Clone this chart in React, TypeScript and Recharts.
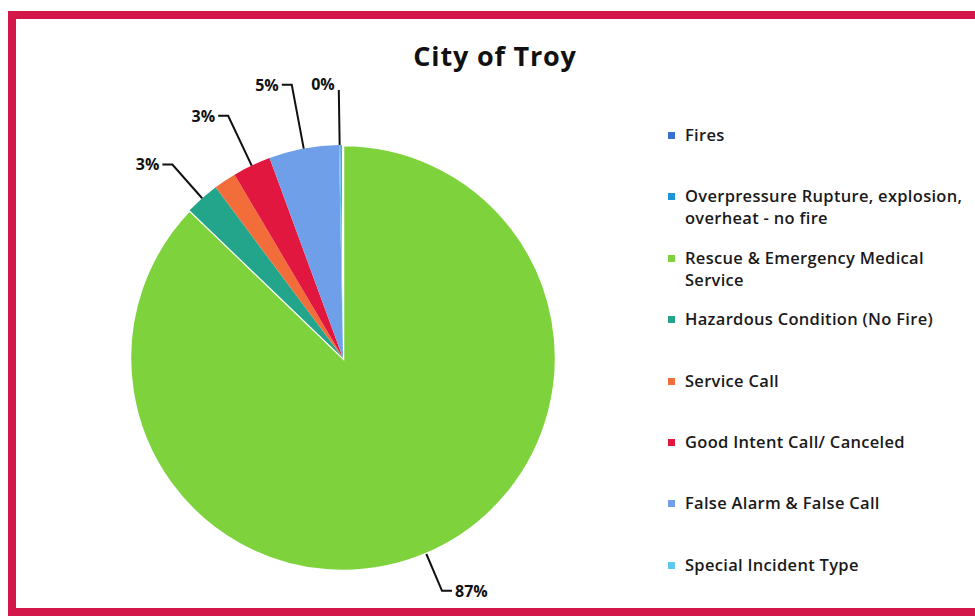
import { PieChart, Pie, Cell, Legend } from 'recharts';

const CATEGORIES = [
  'Fires',
  'Overpressure Rupture, explosion, overheat - no fire',
  'Rescue & Emergency Medical Service',
  'Hazardous Condition (No Fire)',
  'Service Call',
  'Good Intent Call/ Canceled',
  'False Alarm & False Call',
  'Special Incident Type',
];
const SHARES = [0.2, 0, 87.2, 2.6, 1.7, 2.9, 5.3, 0.1];
const COLORS = ['#3a6fd4', '#1b95d8', '#7ed23c', '#22a58a', '#f26d3a', '#e1173f', '#6f9fe8', '#5fc8f0'];

// which slices carry a label, and how far the leader runs out
const LEADS: Record<string, number> = {
  'Hazardous Condition (No Fire)': 45,
  'Good Intent Call/ Canceled': 55,
  'False Alarm & False Call': 65,
  'Special Incident Type': 55,
  'Rescue & Emergency Medical Service': 40,
};

const data = CATEGORIES.map((name, i) => ({ name, value: SHARES[i] }));
const total = SHARES.reduce((a, b) => a + b, 0);
const startAngle = 90 + ((SHARES[0] + SHARES[1]) / total) * 360;

const RAD = Math.PI / 180;
const font = '"Open Sans", "DejaVu Sans", sans-serif';

function renderLabel(props: any) {
  const { cx, cy, midAngle, outerRadius, percent, name } = props;
  const lead = LEADS[name];
  if (lead === undefined) return null;
  const cos = Math.cos(-midAngle * RAD);
  const sin = Math.sin(-midAngle * RAD);
  const x0 = cx + outerRadius * cos;
  const y0 = cy + outerRadius * sin;
  const x1 = cx + (outerRadius + lead) * cos;
  const y1 = cy + (outerRadius + lead) * sin;
  const right = cos >= 0;
  const straight = name === 'Special Incident Type';
  const x2 = straight ? x1 : x1 + (right ? 10 : -10);
  const tx = straight ? x1 - 4 : x2 + (right ? 3 : -3);
  const ty = straight ? y1 - 6 : y1;
  return (
    <g>
      <polyline points={`${x0},${y0} ${x1},${y1} ${x2},${y1}`} fill="none" stroke="#111" strokeWidth={2} />
      <text x={tx} y={ty} textAnchor={right && !straight ? 'start' : 'end'} dominantBaseline="central"
        fontSize={16} fontWeight={700} fontFamily={font} fill="#111">
        {`${Math.round(percent * 100)}%`}
      </text>
    </g>
  );
}

function LegendBox() {
  return (
    <div style={{ fontFamily: font }}>
      {CATEGORIES.map((c, i) => (
        <div key={c} style={{ height: 61.4, display: 'flex', alignItems: 'flex-start' }}>
          <span style={{ width: 7, height: 7, background: COLORS[i], marginTop: 8, marginRight: 10, flex: 'none' }} />
          <span style={{
            fontSize: 16.5, fontWeight: 600, lineHeight: '22px', letterSpacing: 0.3,
            color: '#1a1a1a', width: 290,
          }}>{c}</span>
        </div>
      ))}
    </div>
  );
}

export default function App() {
  return (
    <div style={{ position: 'relative', width: 975, height: 616, overflow: 'hidden', background: '#fff' }}>
      <style>{'body{margin:0;overflow:hidden}'}</style>
      <div style={{
        position: 'absolute', left: 8, top: 11, width: 1000, height: 605, boxSizing: 'border-box',
        borderTop: '8px solid #d3174b', borderLeft: '8px solid #d3174b', borderBottom: '8px solid #d3174b',
      }} />
      <div style={{ position: 'absolute', left: 0, top: 0 }}>
        <PieChart width={975} height={616}>
          <text x={495} y={55} textAnchor="middle" dominantBaseline="central" fontSize={27} fontWeight={700}
            letterSpacing={0.8} fontFamily={font} fill="#111">City of Troy</text>
          <Pie data={data} dataKey="value" nameKey="name" cx={338} cy={353} outerRadius={213}
            startAngle={startAngle} endAngle={startAngle - 360} isAnimationActive={false}
            label={renderLabel} labelLine={false} stroke="none">
            {data.map((d, i) => (
              <Cell key={d.name} fill={COLORS[i]}
                stroke={i === 2 ? '#fff' : 'none'} strokeWidth={i === 2 ? 2.5 : 0} />
            ))}
          </Pie>
          <Legend content={<LegendBox />} layout="vertical"
            wrapperStyle={{ left: 668, top: 124, width: 305, right: 'auto', bottom: 'auto' }} />
        </PieChart>
      </div>
    </div>
  );
}
